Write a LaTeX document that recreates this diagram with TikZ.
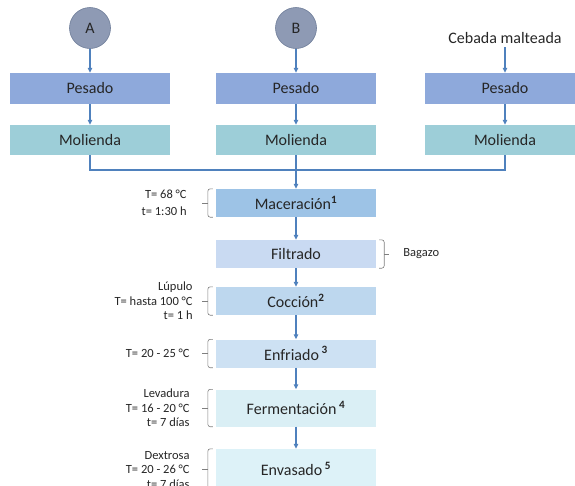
\documentclass[tikz,border=0pt]{standalone}
\usepackage{fontspec}
\setmainfont{Carlito}
\usetikzlibrary{positioning,arrows.meta}

\definecolor{txt}{HTML}{262626}
\definecolor{flowblue}{HTML}{4F81BD}
\definecolor{brakgray}{HTML}{7F7F7F}
\definecolor{circfill}{HTML}{8E9AB4}
\definecolor{circline}{HTML}{6D7C98}
\definecolor{pesfill}{HTML}{8EA9DB}
\definecolor{molfill}{HTML}{9DCED8}
\definecolor{macfill}{HTML}{9DC3E6}
\definecolor{filfill}{HTML}{C9DAF2}
\definecolor{cocfill}{HTML}{BDD7EE}
\definecolor{enffill}{HTML}{CDE1F3}
\definecolor{ferfill}{HTML}{DAEFF5}
\definecolor{envfill}{HTML}{DDF2F8}

\begin{document}
\begin{tikzpicture}[
    x=1pt, y=-1pt,
    procbox/.style={minimum width=160pt, minimum height=28pt,
                    inner sep=0pt, text=txt,
                    font=\fontsize{16}{18}\selectfont},
    srcnode/.style={circle, draw=circline, fill=circfill, line width=0.6pt,
                    minimum size=41pt, inner sep=0pt, text=txt,
                    font=\fontsize{16}{18}\selectfont},
    note/.style={align=right, inner sep=1pt, text=txt,
                 font=\fontsize{12.5}{14.5}\selectfont},
    flow/.style={draw=flowblue, line width=1.2pt,
                 -{Triangle[length=5pt,width=4.5pt]}},
    collect/.style={draw=flowblue, line width=1.2pt},
    brak/.style={draw=brakgray, line width=0.6pt, rounded corners=2.5pt}
]
\useasboundingbox (0,0) rectangle (575,485);

% columns
\def\colA{90}
\def\colB{296}
\def\colC{505}

% rows
\def\rowPes{88.5}
\def\rowMol{140}
\def\rowJoin{170}

% --- SOURCES ---
\node[srcnode] (A) at (\colA,28) {A};
\node[srcnode] (B) at (\colB,28) {B};
\node[text=txt,font=\fontsize{16}{18}\selectfont] (cebada) at (\colC,38) {Cebada malteada};

% --- PESADO / MOLIENDA ---
\node[procbox,fill=pesfill,minimum height=31pt] (pesA) at (\colA,\rowPes) {Pesado};
\node[procbox,fill=pesfill,minimum height=31pt] (pesB) at (\colB,\rowPes) {Pesado};
\node[procbox,fill=pesfill,minimum height=31pt] (pesC) at (\colC,\rowPes) {Pesado};

\node[procbox,fill=molfill,minimum height=30pt] (molA) at (\colA,\rowMol) {Molienda};
\node[procbox,fill=molfill,minimum height=30pt] (molB) at (\colB,\rowMol) {Molienda};
\node[procbox,fill=molfill,minimum height=30pt] (molC) at (\colC,\rowMol) {Molienda};

% --- MAIN LINE ---
\node[procbox,fill=macfill] (mac) at (\colB,203) {Maceración\textsuperscript{\textbf{1}}};
\node[procbox,fill=filfill] (fil) at (\colB,254) {Filtrado};
\node[procbox,fill=cocfill] (coc) at (\colB,301) {Cocción\textsuperscript{\textbf{2}}};
\node[procbox,fill=enffill] (enf) at (\colB,353.5) {Enfriado\,\textsuperscript{\textbf{3}}};
\node[procbox,fill=ferfill,minimum height=37pt] (fer) at (\colB,408) {Fermentación\,\textsuperscript{\textbf{4}}};
\node[procbox,fill=envfill,minimum height=40pt] (env) at (\colB,469) {Envasado\,\textsuperscript{\textbf{5}}};

% --- ARROWS ---
\foreach \u/\v in {A/pesA, B/pesB, cebada/pesC,
                   pesA/molA, pesB/molB, pesC/molC,
                   mac/fil, fil/coc, coc/enf, enf/fer, fer/env}
  \draw[flow] (\u) -- (\v);

\coordinate (joinB) at (\colB,\rowJoin);
\coordinate (joinC) at (\colC,\rowJoin);
\draw[collect] (molA.south) |- (joinC) -- (molC.south);
\draw[collect] (molB.south) -- (joinB);
\draw[flow] (joinB) -- (mac);

% --- BRACKETS ---
\foreach \b in {mac,coc,enf,fer,env} {
  \draw[brak] ([xshift=-3pt]\b.north west) -- ([xshift=-8pt]\b.north west)
              -- ([xshift=-8pt]\b.south west) -- ([xshift=-3pt]\b.south west);
  \draw[brak] ([xshift=-8pt]\b.west) -- ([xshift=-14pt]\b.west);
}
\draw[brak] ([xshift=3pt]fil.north east) -- ([xshift=8pt]fil.north east)
            -- ([xshift=8pt]fil.south east) -- ([xshift=3pt]fil.south east);
\draw[brak] ([xshift=8pt]fil.east) -- ([xshift=13pt]fil.east);

% --- CONDITIONS ---
\node[note,left=28pt of mac] (noteMac) {T= 68 °C\\[3pt]t= 1:30 h};
\node[note,right=26pt of fil,align=left] (bagazo) {Bagazo};
\node[note,left=22pt of coc] (noteCoc) {Lúpulo\\T= hasta 100 °C\\t= 1 h};
\node[note,left=25pt of enf] (noteEnf) {T= 20 - 25 °C};
\node[note,left=25pt of fer] (noteFer) {Levadura\\T= 16 - 20 °C\\t= 7 días};
\node[note,left=25pt of env,yshift=-1pt] (noteEnv) {Dextrosa\\T= 20 - 26 °C\\t= 7 días};

\end{tikzpicture}
\end{document}
